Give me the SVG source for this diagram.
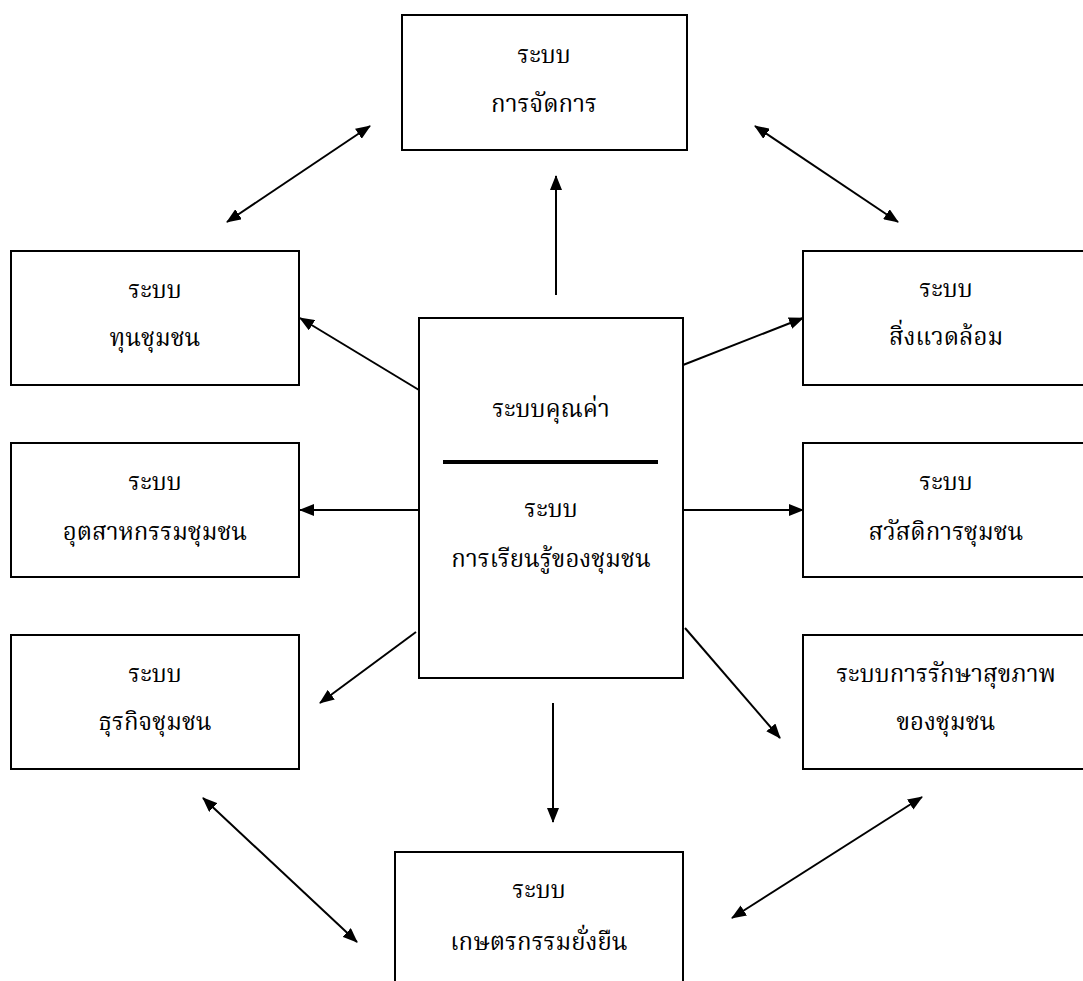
<svg xmlns="http://www.w3.org/2000/svg" width="1083" height="981" viewBox="0 0 1083 981">
<defs>
<style>
.box{fill:#fff;stroke:#000;stroke-width:2}
.t{font-family:"Liberation Serif","Noto Serif Thai","Kinnari","Norasi","DejaVu Serif",serif;font-size:24px;font-weight:normal;fill:#000;text-anchor:middle}
.c{fill:none;stroke:#000;stroke-width:2}
</style>
<marker id="ah" viewBox="0 0 15 12" refX="14" refY="6" markerWidth="15" markerHeight="12" markerUnits="userSpaceOnUse" orient="auto-start-reverse">
<path d="M0,0 L15,6 L0,12 Z" fill="#000"/>
</marker>
</defs>
<rect width="1083" height="981" fill="#fff"/>
<g id="connectors">
<line class="c" x1="556" y1="295" x2="556" y2="176" marker-end="url(#ah)"/>
<line class="c" x1="553" y1="703" x2="553" y2="822" marker-end="url(#ah)"/>
<line class="c" x1="419" y1="390" x2="300" y2="318" marker-end="url(#ah)"/>
<line class="c" x1="683" y1="365" x2="803" y2="318" marker-end="url(#ah)"/>
<line class="c" x1="419" y1="510" x2="300" y2="510" marker-end="url(#ah)"/>
<line class="c" x1="683" y1="510" x2="803" y2="510" marker-end="url(#ah)"/>
<line class="c" x1="416" y1="632" x2="320" y2="703" marker-end="url(#ah)"/>
<line class="c" x1="685" y1="628" x2="780" y2="738" marker-end="url(#ah)"/>
<line class="c" x1="227" y1="222" x2="370" y2="126" marker-start="url(#ah)" marker-end="url(#ah)"/>
<line class="c" x1="755" y1="126" x2="898" y2="222" marker-start="url(#ah)" marker-end="url(#ah)"/>
<line class="c" x1="203" y1="798" x2="357" y2="942" marker-start="url(#ah)" marker-end="url(#ah)"/>
<line class="c" x1="922" y1="797" x2="732" y2="918" marker-start="url(#ah)" marker-end="url(#ah)"/>
</g>
<g id="n-management">
<rect class="box" x="402" y="15" width="285" height="135"/>
<text class="t" x="544" y="63">ระบบ</text>
<text class="t" x="544" y="112">การจัดการ</text>
</g>
<g id="n-capital">
<rect class="box" x="11" y="251" width="288" height="134"/>
<text class="t" x="155" y="298">ระบบ</text>
<text class="t" x="155" y="346">ทุนชุมชน</text>
</g>
<g id="n-environment">
<rect class="box" x="803" y="251" width="288" height="134"/>
<text class="t" x="946" y="297">ระบบ</text>
<text class="t" x="946" y="345">สิ่งแวดล้อม</text>
</g>
<g id="n-industry">
<rect class="box" x="11" y="443" width="288" height="134"/>
<text class="t" x="155" y="490">ระบบ</text>
<text class="t" x="155" y="540">อุตสาหกรรมชุมชน</text>
</g>
<g id="n-welfare">
<rect class="box" x="803" y="443" width="288" height="134"/>
<text class="t" x="946" y="490">ระบบ</text>
<text class="t" x="946" y="540">สวัสดิการชุมชน</text>
</g>
<g id="n-business">
<rect class="box" x="11" y="635" width="288" height="134"/>
<text class="t" x="155" y="682">ระบบ</text>
<text class="t" x="155" y="730">ธุรกิจชุมชน</text>
</g>
<g id="n-health">
<rect class="box" x="803" y="635" width="288" height="134"/>
<text class="t" x="946" y="682">ระบบการรักษาสุขภาพ</text>
<text class="t" x="946" y="730">ของชุมชน</text>
</g>
<g id="n-center">
<rect class="box" x="419" y="318" width="264" height="360"/>
<text class="t" x="551" y="417">ระบบคุณค่า</text>
<line x1="443" y1="462" x2="658" y2="462" stroke="#000" stroke-width="4"/>
<text class="t" x="551" y="517">ระบบ</text>
<text class="t" x="551" y="567">การเรียนรู้ของชุมชน</text>
</g>
<g id="n-agriculture">
<rect class="box" x="395" y="852" width="288" height="140"/>
<text class="t" x="539" y="898">ระบบ</text>
<text class="t" x="539" y="950">เกษตรกรรมยั่งยืน</text>
</g>
</svg>
